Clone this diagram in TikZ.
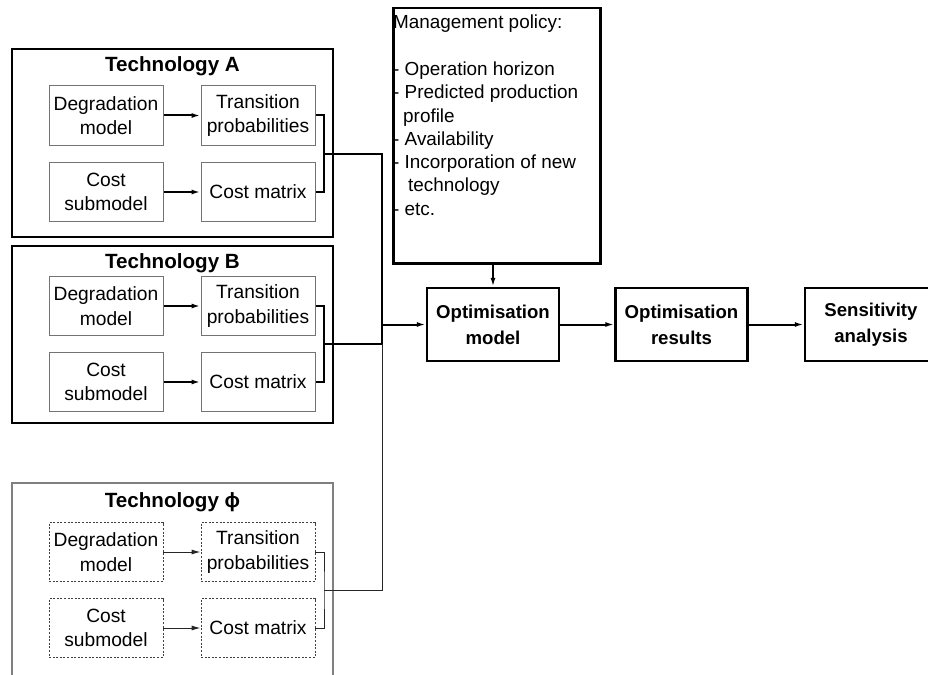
\documentclass[tikz,border=0pt]{standalone}
\usepackage{fontspec}
\setmainfont{Liberation Sans}
\usetikzlibrary{arrows.meta}

\begin{document}
\begin{tikzpicture}[x=1pt,y=-1pt,
  txt/.style={font=\fontsize{19.2}{24.5}\selectfont, align=center},
  inbox/.style={draw=black!55, line width=1pt, minimum width=114pt, minimum height=59pt, inner sep=0pt, txt},
  dotbox/.style={inbox, draw=black!75, line width=0.8pt, dash pattern=on 2pt off 1.6pt},
  techframe/.style={draw, line width=2.6pt},
  ghostframe/.style={draw=black!50, line width=1.4pt},
  title/.style={font=\bfseries\fontsize{20.6}{24}\selectfont, anchor=base, inner sep=0pt},
  flowbox/.style={draw, line width=2.4pt, minimum width=132pt, minimum height=73pt, inner sep=0pt, align=center, font=\bfseries\fontsize{18.6}{26}\selectfont},
  link/.style={line width=2pt},
  thinlink/.style={line width=1pt, black!85},
  arr/.style={-{Latex[length=9pt,width=5pt]}},
]
\useasboundingbox (0,0) rectangle (928,674);
\clip (0,0) rectangle (928,674);

% technology frames
\draw[techframe] (12,49) rectangle (333,237);
\node[title] (ta) at (172.5,72) {Technology A};
\draw[techframe] (12,246) rectangle (333,423);
\node[title] (tb) at (172.5,268) {Technology B};
\draw[ghostframe] (12,483) rectangle (333,720);
\node[title] (tphi) at (172.5,507) {Technology ϕ};

% technology A
\node[inbox] (adeg) at (106,115.5) {Degradation\\model};
\node[inbox] (atp)  at (258,115.5) {Transition\\probabilities};
\node[inbox] (acs)  at (106,192) {Cost\\submodel};
\node[inbox] (acm)  at (258,192) {Cost matrix};
\draw[link,arr] (adeg) -- (atp);
\draw[link,arr] (acs) -- (acm);
\coordinate (abr) at (324,154);
\draw[link] (atp.east) -| (abr) |- (acm.east);

% technology B
\node[inbox] (bdeg) at (106,306) {Degradation\\model};
\node[inbox] (btp)  at (258,306) {Transition\\probabilities};
\node[inbox] (bcs)  at (106,382) {Cost\\submodel};
\node[inbox] (bcm)  at (258,382) {Cost matrix};
\draw[link,arr] (bdeg) -- (btp);
\draw[link,arr] (bcs) -- (bcm);
\coordinate (bbr) at (324,344);
\draw[link] (btp.east) -| (bbr) |- (bcm.east);

% technology phi
\node[dotbox] (fdeg) at (106,552) {Degradation\\model};
\node[dotbox] (ftp)  at (258,552) {Transition\\probabilities};
\node[dotbox] (fcs)  at (106,628) {Cost\\submodel};
\node[dotbox] (fcm)  at (258,628) {Cost matrix};
\draw[thinlink,arr] (fdeg) -- (ftp);
\draw[thinlink,arr] (fcs) -- (fcm);
\coordinate (fbr) at (324,590);
\draw[thinlink] (ftp.east) -| (fbr) |- (fcm.east);

% management policy
\node[draw, line width=2.5pt, minimum width=207pt, minimum height=255pt, anchor=north west, inner sep=0pt] (mgmt) at (392,7) {};
\node[anchor=north west, inner sep=0pt, align=left, font=\fontsize{18.9}{23.3}\selectfont] (mtext) at (393,15)
  {Management policy:\\[23.3pt]
   - Operation horizon\\
   - Predicted production\\
   \hspace*{10pt}profile\\
   - Availability\\
   - Incorporation of new\\
   \hspace*{15pt}technology\\
   - etc.};

% optimisation chain
\node[flowbox] (optm) at (493,324.5) {Optimisation\\model};
\node[flowbox] (optr) at (681.5,324.5) {Optimisation\\results};
\node[flowbox] (sens) at (871,324.5) {Sensitivity\\analysis};
\draw[link,arr] (mgmt.south -| optm) -- (optm);
\draw[link,arr] (optm) -- (optr);
\draw[link,arr] (optr) -- (sens);

% collecting bus
\coordinate (j1) at (382,154);
\coordinate (j2) at (382,344);
\coordinate (j3) at (382,590);
\coordinate (jin) at (382,324.5);
\draw[link] (abr) -- (j1) -- (j2) -- (bbr);
\draw[thinlink] (j2) -- (j3) -- (fbr);
\draw[link,arr] (jin) -- (optm.west);
\end{tikzpicture}
\end{document}
